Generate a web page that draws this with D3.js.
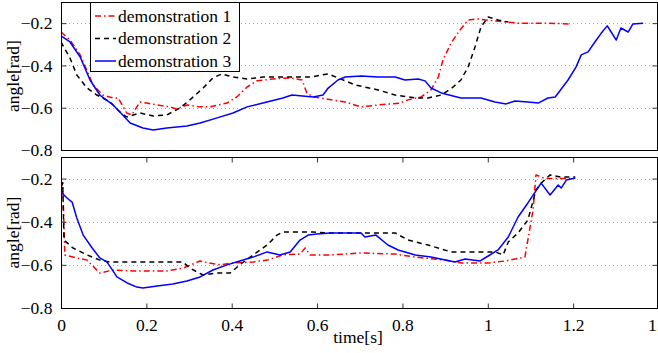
<!DOCTYPE html>
<html><head><meta charset="utf-8">
<script src="https://cdn.jsdelivr.net/npm/d3@7"></script>
</head>
<body style="margin:0;background:#fff">
<svg id="c" width="658" height="353" style="display:block"></svg>
<script>
// ---- data ----
const seriesNames = ["demonstration 1", "demonstration 2", "demonstration 3"];
const xTicks = [0, 0.2, 0.4, 0.6, 0.8, 1, 1.2, 1.4];
const xTickLabels = ["0", "0.2", "0.4", "0.6", "0.8", "1", "1.2", "1.4"];
const yTicks = [-0.8, -0.6, -0.4, -0.2];
const yTickLabels = ["\u22120.8", "\u22120.6", "\u22120.4", "\u22120.2"];

// top panel
const topT1 = [0,0.021,0.045,0.075,0.098,0.122,0.134,0.154,0.166,0.185,0.201,0.224,0.255,0.271,0.295,0.326,0.349,0.389,0.412,0.436,0.459,0.497,0.537,0.565,0.576,0.591,0.626,0.666,0.703,0.743,0.794,0.813,0.844,0.867,0.884,0.895,0.914,0.935,0.954,0.977,1.017,1.048,1.071,1.134,1.195];
const topV1 = [-0.242,-0.28,-0.35,-0.492,-0.54,-0.554,-0.554,-0.625,-0.634,-0.573,-0.578,-0.587,-0.596,-0.606,-0.587,-0.596,-0.596,-0.578,-0.549,-0.502,-0.473,-0.464,-0.459,-0.469,-0.53,-0.549,-0.56,-0.573,-0.596,-0.587,-0.578,-0.563,-0.549,-0.516,-0.455,-0.374,-0.294,-0.232,-0.185,-0.18,-0.19,-0.195,-0.2,-0.2,-0.204];
const topT2 = [0,0.021,0.037,0.061,0.084,0.115,0.138,0.154,0.185,0.216,0.248,0.279,0.302,0.333,0.356,0.377,0.403,0.436,0.473,0.544,0.584,0.626,0.649,0.689,0.743,0.783,0.83,0.86,0.891,0.919,0.937,0.954,0.97,0.984,1.001,1.024,1.048];
const topV2 = [-0.289,-0.365,-0.445,-0.507,-0.54,-0.573,-0.62,-0.644,-0.625,-0.639,-0.634,-0.601,-0.563,-0.507,-0.459,-0.44,-0.455,-0.464,-0.455,-0.455,-0.455,-0.44,-0.459,-0.492,-0.516,-0.54,-0.554,-0.554,-0.54,-0.502,-0.469,-0.407,-0.313,-0.218,-0.171,-0.185,-0.195];
const topT3 = [0,0.021,0.045,0.068,0.091,0.122,0.138,0.162,0.192,0.216,0.248,0.295,0.326,0.366,0.403,0.436,0.473,0.52,0.541,0.591,0.614,0.626,0.649,0.666,0.703,0.743,0.783,0.806,0.837,0.853,0.867,0.891,0.937,0.984,1.017,1.043,1.064,1.094,1.118,1.141,1.158,1.188,1.207,1.219,1.235,1.251,1.266,1.28,1.289,1.301,1.312,1.329,1.34,1.364];
const topV3 = [-0.26,-0.289,-0.36,-0.469,-0.54,-0.587,-0.62,-0.672,-0.696,-0.705,-0.696,-0.686,-0.672,-0.648,-0.625,-0.596,-0.578,-0.554,-0.54,-0.549,-0.54,-0.507,-0.469,-0.455,-0.45,-0.455,-0.455,-0.469,-0.464,-0.473,-0.507,-0.53,-0.554,-0.554,-0.573,-0.582,-0.568,-0.573,-0.578,-0.554,-0.549,-0.469,-0.407,-0.35,-0.336,-0.289,-0.247,-0.213,-0.242,-0.28,-0.223,-0.242,-0.204,-0.2];

// bottom panel
const botT1 = [0,0.004,0.009,0.028,0.061,0.091,0.122,0.169,0.248,0.286,0.326,0.345,0.373,0.403,0.45,0.483,0.52,0.56,0.572,0.584,0.63,0.703,0.783,0.83,0.9,0.937,1.001,1.041,1.087,1.106,1.113,1.134,1.2];
const botV1 = [-0.24,-0.22,-0.554,-0.564,-0.578,-0.638,-0.624,-0.628,-0.628,-0.615,-0.582,-0.591,-0.6,-0.591,-0.587,-0.578,-0.554,-0.55,-0.522,-0.554,-0.554,-0.545,-0.55,-0.564,-0.578,-0.591,-0.591,-0.582,-0.564,-0.346,-0.183,-0.2,-0.2];
const botT2 = [0,0.004,0.007,0.028,0.061,0.091,0.115,0.169,0.286,0.302,0.319,0.333,0.366,0.396,0.419,0.45,0.483,0.506,0.52,0.56,0.591,0.63,0.783,0.813,0.86,0.914,1.017,1.036,1.048,1.071,1.094,1.113,1.125,1.146,1.172,1.205];
const botV2 = [-0.24,-0.22,-0.485,-0.522,-0.554,-0.578,-0.587,-0.587,-0.587,-0.615,-0.633,-0.647,-0.638,-0.638,-0.6,-0.554,-0.508,-0.462,-0.448,-0.448,-0.448,-0.452,-0.452,-0.485,-0.508,-0.54,-0.54,-0.554,-0.494,-0.452,-0.392,-0.253,-0.221,-0.183,-0.193,-0.193];
const botT3 = [0,0.014,0.026,0.037,0.052,0.073,0.091,0.108,0.131,0.155,0.178,0.192,0.225,0.262,0.295,0.326,0.356,0.389,0.419,0.45,0.483,0.513,0.537,0.56,0.579,0.6,0.63,0.703,0.712,0.738,0.766,0.79,0.83,0.867,0.923,0.947,0.982,1.001,1.024,1.048,1.071,1.094,1.125,1.146,1.165,1.172,1.184,1.205];
const botV3 = [-0.262,-0.29,-0.309,-0.383,-0.462,-0.522,-0.568,-0.587,-0.656,-0.684,-0.703,-0.707,-0.698,-0.689,-0.675,-0.656,-0.624,-0.6,-0.582,-0.564,-0.54,-0.554,-0.54,-0.485,-0.462,-0.457,-0.452,-0.452,-0.471,-0.462,-0.508,-0.531,-0.554,-0.564,-0.587,-0.573,-0.582,-0.559,-0.531,-0.471,-0.378,-0.313,-0.221,-0.276,-0.23,-0.244,-0.207,-0.197];

// ---- drawing ----
const FONT = "'Liberation Serif'";
const svg = d3.select("#c");
const L = 61, R = 657;
const x = d3.scaleLinear().domain([0, 1.4]).range([L, R + 1.5]);
const panels = [
  {top: 2, bottom: 150, xTicks: false,
   series: [[topT1, topV1], [topT2, topV2], [topT3, topV3]]},
  {top: 157, bottom: 308, xTicks: true,
   series: [[botT1, botV1], [botT2, botV2], [botT3, botV3]]}
];
const styles = [
  {color: "#ff0000", dash: "6,3,1.5,3"},
  {color: "#000000", dash: "5,4"},
  {color: "#0000ff", dash: null}
];
const fs = 17.5;

panels.forEach((p, pi) => {
  const y = d3.scaleLinear().domain([-0.8, -0.1]).range([p.bottom, p.top]);
  const g = svg.append("g");
  g.selectAll(".grid").data(yTicks.filter(v => v > -0.8)).enter().append("line")
    .attr("x1", L).attr("x2", R).attr("y1", d => Math.round(y(d)) + 0.5).attr("y2", d => Math.round(y(d)) + 0.5)
    .attr("stroke", "#a8a8a8").attr("stroke-width", 1).attr("stroke-dasharray", "1,3");
  const cid = "clip" + pi;
  svg.append("clipPath").attr("id", cid).append("rect")
    .attr("x", L).attr("y", p.top).attr("width", R - L).attr("height", p.bottom - p.top);
  const line = d3.line().x(d => x(d[0])).y(d => y(d[1]));
  p.series.forEach((s, si) => {
    const pts = s[0].map((t, i) => [t, s[1][i]]);
    g.append("path").datum(pts).attr("d", line).attr("clip-path", `url(#${cid})`)
      .attr("fill", "none").attr("stroke", styles[si].color).attr("stroke-width", 1.5)
      .attr("stroke-dasharray", styles[si].dash).attr("stroke-linejoin", "round");
  });
  const yAxL = d3.axisLeft(y).tickValues(yTicks).tickSize(-5).tickFormat((d, i) => yTickLabels[i]).tickPadding(9);
  const ga = g.append("g").attr("transform", `translate(${L + 0.5},0)`).call(yAxL);
  ga.select(".domain").remove();
  ga.selectAll("text").attr("font-size", fs).style("font-family", FONT).attr("fill", "#000").attr("dy", "0.33em");
  ga.selectAll("line").attr("stroke", "#333");
  const yAxR = d3.axisRight(y).tickValues(yTicks).tickSize(-5).tickFormat("");
  const gr = g.append("g").attr("transform", `translate(${R + 0.5},0)`).call(yAxR);
  gr.select(".domain").remove();
  gr.selectAll("line").attr("stroke", "#333");
  if (p.xTicks) {
    const xb = d3.axisBottom(x).tickValues(xTicks).tickSize(-5).tickPadding(10)
      .tickFormat((d, i) => xTickLabels[i]);
    const gx = g.append("g").attr("transform", `translate(0,${p.bottom + 0.5})`).call(xb);
    gx.select(".domain").remove();
    gx.selectAll("line").attr("stroke", "#333");
    gx.selectAll("text").attr("font-size", fs).style("font-family", FONT).attr("fill", "#000").attr("dy", "0.72em");
    const xt = d3.axisTop(x).tickValues(xTicks).tickSize(-5).tickFormat("");
    const gt = g.append("g").attr("transform", `translate(0,${p.top + 0.5})`).call(xt);
    gt.select(".domain").remove();
    gt.selectAll("line").attr("stroke", "#333");
  }
  g.append("rect").attr("x", L + 0.5).attr("y", p.top + 0.5).attr("width", R - L).attr("height", p.bottom - p.top)
    .attr("fill", "none").attr("stroke", "#000").attr("stroke-width", 1);
  svg.append("text").attr("transform", `translate(19,${(p.top + p.bottom) / 2}) rotate(-90)`)
    .attr("text-anchor", "middle").attr("font-size", fs).style("font-family", FONT).text("angle[rad]");
});

svg.append("text").attr("x", 358).attr("y", 343).attr("text-anchor", "middle")
  .attr("font-size", fs).style("font-family", FONT).text("time[s]");

const lg = svg.append("g");
lg.append("rect").attr("x", 90.5).attr("y", 2.5).attr("width", 149).attr("height", 69)
  .attr("fill", "#fff").attr("stroke", "#000").attr("stroke-width", 1);
seriesNames.forEach((n, i) => {
  const yy = 16 + i * 22.5;
  lg.append("line").attr("x1", 95).attr("x2", 116).attr("y1", yy).attr("y2", yy)
    .attr("stroke", styles[i].color).attr("stroke-width", 1.5).attr("stroke-dasharray", styles[i].dash);
  lg.append("text").attr("x", 118).attr("y", yy).attr("dy", "0.33em").attr("font-size", fs)
    .style("font-family", FONT).text(n);
});
</script></body></html>
